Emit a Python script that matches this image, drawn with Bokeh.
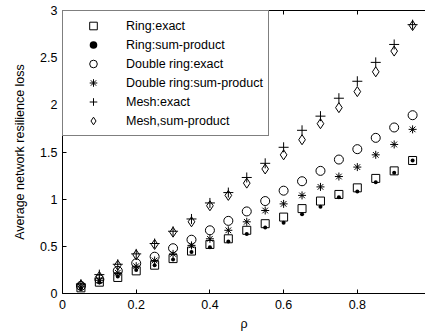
from bokeh.plotting import figure
from bokeh.models import FixedTicker, LinearAxis, Legend, LegendItem, Range1d
from bokeh.embed import file_html
from bokeh.resources import INLINE

# ---- data ----
rho = [0.05, 0.10, 0.15, 0.20, 0.25, 0.30, 0.35, 0.40, 0.45, 0.50,
       0.55, 0.60, 0.65, 0.70, 0.75, 0.80, 0.85, 0.90, 0.95]
ring_exact = [0.06, 0.12, 0.17, 0.24, 0.30, 0.37, 0.45, 0.52, 0.58, 0.67,
              0.74, 0.81, 0.90, 0.98, 1.05, 1.12, 1.22, 1.30, 1.41]
ring_sp = [0.05, 0.12, 0.18, 0.25, 0.30, 0.36, 0.44, 0.49, 0.55, 0.63,
           0.70, 0.75, 0.84, 0.92, 1.02, 1.08, 1.18, 1.28, 1.41]
dring_exact = [0.08, 0.15, 0.24, 0.32, 0.39, 0.48, 0.57, 0.67, 0.77, 0.87,
               0.98, 1.09, 1.19, 1.30, 1.42, 1.53, 1.65, 1.76, 1.89]
dring_sp = [0.07, 0.14, 0.22, 0.29, 0.35, 0.42, 0.51, 0.58, 0.67, 0.76,
            0.88, 0.95, 1.04, 1.13, 1.24, 1.34, 1.47, 1.58, 1.74]
mesh_exact = [0.10, 0.20, 0.31, 0.42, 0.53, 0.66, 0.79, 0.96, 1.07, 1.23,
              1.38, 1.55, 1.73, 1.88, 2.07, 2.25, 2.45, 2.64, 2.85]
mesh_sp = [0.09, 0.18, 0.30, 0.41, 0.52, 0.65, 0.76, 0.93, 1.04, 1.17,
           1.32, 1.47, 1.63, 1.80, 1.97, 2.14, 2.35, 2.57, 2.84]

series_labels = ["Ring:exact", "Ring:sum-product", "Double ring:exact",
                 "Double ring:sum-product", "Mesh:exact", "Mesh,sum-product"]
x_ticks = [0, 0.2, 0.4, 0.6, 0.8, 1.0]
x_tick_labels = ["0", "0.2", "0.4", "0.6", "0.8", "1"]
y_ticks = [0, 0.5, 1, 1.5, 2, 2.5, 3]
y_tick_labels = ["0", "0.5", "1", "1.5", "2", "2.5", "3"]
x_title = "ρ"
y_title = "Average network resilience loss"

FONT = "Liberation Sans"
FS = "12.5px"

p = figure(width=425, height=335, output_backend="svg", toolbar_location=None,
           x_range=Range1d(0, 0.985), y_range=Range1d(0, 3),
           min_border_left=62, min_border_right=0, min_border_top=10,
           min_border_bottom=42)
p.outline_line_color = None
p.grid.grid_line_color = None
p.background_fill_color = "white"

r1 = p.scatter(rho, ring_exact, marker="square", size=8, fill_color=None,
               line_color="black", line_width=1)
r2 = p.scatter(rho, ring_sp, marker="circle", size=4, fill_color="black",
               line_color=None)
r3 = p.scatter(rho, dring_exact, marker="circle", size=9, fill_color=None,
               line_color="black", line_width=1)
r4 = p.scatter(rho, dring_sp, marker="asterisk", size=8, line_color="black",
               line_width=1)
r5 = p.scatter(rho, mesh_exact, marker="cross", size=10, line_color="black",
               line_width=1)
r6 = p.scatter(rho, mesh_sp, marker="diamond", size=10, fill_color=None,
               line_color="black", line_width=1)

# axes
xa = p.xaxis[0]
xa.ticker = FixedTicker(ticks=x_ticks)
xa.major_label_overrides = {t: l for t, l in zip(x_ticks, x_tick_labels)}
ya = p.yaxis[0]
ya.ticker = FixedTicker(ticks=y_ticks)
ya.major_label_overrides = {t: l for t, l in zip(y_ticks, y_tick_labels)}
for ax in (xa, ya):
    ax.major_tick_in = 4
    ax.major_tick_out = 0
    ax.minor_tick_line_color = None
    ax.axis_line_color = "black"
    ax.major_tick_line_color = "black"
    ax.major_label_text_font = FONT
    ax.major_label_text_font_size = FS
    ax.major_label_text_color = "black"
    ax.axis_label_text_font = FONT
    ax.axis_label_text_font_size = FS
    ax.axis_label_text_font_style = "normal"
    ax.axis_label_text_color = "black"
xa.axis_label = x_title
ya.axis_label = y_title
xa.major_label_standoff = 6
ya.major_label_standoff = 5
xa.axis_label_standoff = 5
ya.axis_label_standoff = 10

# top frame line with inward ticks and no labels
top = LinearAxis(ticker=FixedTicker(ticks=[], minor_ticks=x_ticks),
                 major_tick_line_color=None, minor_tick_in=4,
                 minor_tick_out=0, minor_tick_line_color="black",
                 axis_line_color="black")
p.add_layout(top, "above")

legend = Legend(items=[LegendItem(label=l, renderers=[r]) for l, r in
                       zip(series_labels, [r1, r2, r3, r4, r5, r6])],
                location="top_left", margin=0, padding=5, spacing=0,
                glyph_width=50, glyph_height=19, label_height=19,
                label_standoff=8, border_line_color="black",
                border_line_width=1, label_text_font=FONT,
                label_text_font_size=FS, label_text_color="black",
                background_fill_alpha=1)
p.add_layout(legend, "center")

open("out.html", "w").write(file_html(p, INLINE))
